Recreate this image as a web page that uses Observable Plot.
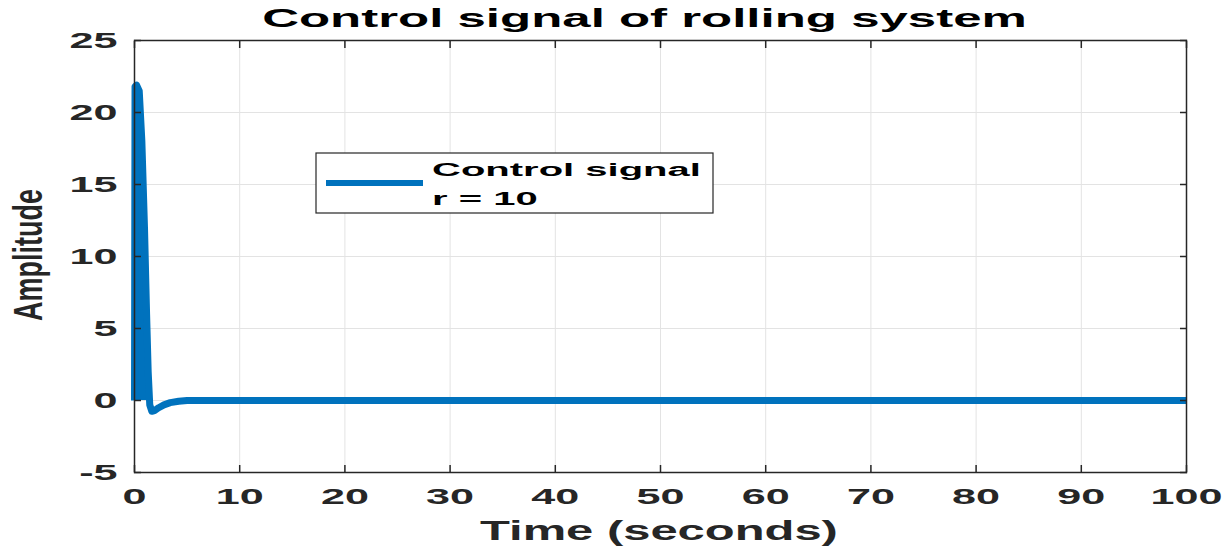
<!DOCTYPE html>
<html><head><meta charset="utf-8">
<script src="https://cdn.jsdelivr.net/npm/d3@7"></script>
<script src="https://cdn.jsdelivr.net/npm/@observablehq/plot@0.6"></script>
<style>
body{margin:0;background:#fff}
#chart svg{font-family:"Liberation Sans",Arial,sans-serif}
</style>
</head><body><div id="chart"></div>
<script>
// ---- data ----
const time      = [0, 0.05, 0.2, 0.45, 0.7, 0.95, 1.15, 1.3, 1.45, 1.65, 1.9, 2.3, 2.8, 3.4, 4.2, 5, 6, 10, 20, 30, 40, 50, 60, 70, 80, 90, 100];
const amplitude = [0, 21.8, 21.9, 21.5, 18, 12, 6, 2, -0.3, -0.75, -0.7, -0.5, -0.3, -0.15, -0.05, 0, 0, 0, 0, 0, 0, 0, 0, 0, 0, 0, 0];
// densely oscillating part that fills the spike
const spikeTime = [0, 0.05, 0.2, 0.5, 0.75, 1.0, 1.2, 1.35, 1.5];
const spikeTop  = [0, 21.8, 21.9, 21.6, 17, 11, 5.5, 2, 0];
const xTicks = [0, 10, 20, 30, 40, 50, 60, 70, 80, 90, 100];
const yTicks = [-5, 0, 5, 10, 15, 20, 25];
const titleText = "Control signal of rolling system";
const xLabel = "Time (seconds)";
const yLabel = "Amplitude";
const legendLines = ["Control signal", "r = 10"];

const blue = "#0072BD";
const ink = "#262626";
const gridColor = "#e3e3e3";

const series = time.map((t, i) => ({t, v: amplitude[i]}));
const spike = spikeTime.map((t, i) => ({t, v: spikeTop[i]}));

const plot = Plot.plot({
  width: 1232, height: 550,
  marginLeft: 134, marginRight: 46, marginTop: 40, marginBottom: 78,
  x: {domain: [0, 100]},
  y: {domain: [-5, 25]},
  style: {fontFamily: "'Liberation Sans', Arial, sans-serif", fontSize: "22px", fontWeight: "bold", color: ink, background: "white", overflow: "visible"},
  marks: [
    Plot.gridX(xTicks, {stroke: gridColor, strokeOpacity: 1, strokeWidth: 1}),
    Plot.gridY(yTicks, {stroke: gridColor, strokeOpacity: 1, strokeWidth: 1}),
    Plot.areaY(spike, {x: "t", y1: 0, y2: "v", fill: blue}),
    Plot.line(series, {x: "t", y: "v", stroke: blue, strokeWidth: 7, strokeLinejoin: "round", strokeLinecap: "butt"}),
    Plot.frame({stroke: ink, strokeWidth: 1.5}),
    // inward ticks on all four sides
    Plot.axisX(xTicks, {anchor: "bottom", tickSize: 7, dy: -7, text: null, label: null, stroke: ink, strokeWidth: 1.5}),
    Plot.axisX(xTicks, {anchor: "top", tickSize: 7, dy: 7, text: null, label: null, stroke: ink, strokeWidth: 1.5}),
    Plot.axisY(yTicks, {anchor: "left", tickSize: 7, dx: 7, text: null, label: null, stroke: ink, strokeWidth: 1.5}),
    Plot.axisY(yTicks, {anchor: "right", tickSize: 7, dx: -7, text: null, label: null, stroke: ink, strokeWidth: 1.5}),
    // tick labels
    Plot.axisX(xTicks, {anchor: "bottom", tickSize: 0, tickPadding: 16, label: null, fill: ink, fontWeight: "bold", fontSize: 22, tickFormat: d => String(d)}),
    Plot.axisY(yTicks, {anchor: "left", tickSize: 0, tickPadding: 17, label: null, fill: ink, fontWeight: "bold", fontSize: 22, tickFormat: d => String(d)})
  ]
});
document.getElementById("chart").appendChild(plot);

const svg = d3.select(plot);

function anchorX(el, b) {
  const anchor = getComputedStyle(el).textAnchor;
  return anchor === "middle" ? b.x + b.width / 2 : anchor === "end" ? b.x + b.width : b.x;
}
function stretchBy(el, s) {
  const b = el.getBBox();
  const cx = anchorX(el, b);
  const prev = el.getAttribute("transform") || "";
  el.setAttribute("transform", `${prev} translate(${cx},0) scale(${s},1) translate(${-cx},0)`);
}
function stretchX(el, target) {
  const s = target / el.getBBox().width;
  stretchBy(el, s);
  return s;
}

// tick labels: widen like the reference
const tickTexts = svg.selectAll('[aria-label$="tick label"] text').nodes();
const ref = tickTexts.find(t => t.textContent === "40");
const tickScale = ref ? 48 / ref.getBBox().width : 1.9;
tickTexts.forEach(t => stretchBy(t, tickScale));

// title
const title = svg.append("text").attr("x", 644.5).attr("y", 27).attr("text-anchor", "middle")
  .attr("font-size", 25).attr("font-weight", "bold").attr("fill", "#000").text(titleText);
stretchX(title.node(), 765);

// x label
const xl = svg.append("text").attr("x", 659).attr("y", 540).attr("text-anchor", "middle")
  .attr("font-size", 27).attr("font-weight", "bold").attr("fill", ink).text(xLabel);
stretchX(xl.node(), 358);

// y label (rotated, widened in screen x)
const yl = svg.append("text").attr("text-anchor", "middle")
  .attr("font-size", 27).attr("font-weight", "bold").attr("fill", ink).text(yLabel);
{
  const el = yl.node();
  const b = el.getBBox();
  const s = 1.5;
  const cy = b.y + b.height * 0.55;
  el.setAttribute("transform", `translate(28,255) rotate(-90) translate(0,${cy}) scale(1,${s}) translate(0,${-cy})`);
  const bb = el.getBoundingClientRect();
  const svgR = plot.getBoundingClientRect();
  const dxFix = 28 - ((bb.left + bb.right) / 2 - svgR.left);
  const dyFix = 255 - ((bb.top + bb.bottom) / 2 - svgR.top);
  el.setAttribute("transform", `translate(${28 + dxFix},${255 + dyFix}) rotate(-90) translate(0,${cy}) scale(1,${s}) translate(0,${-cy})`);
}

// legend
const lg = svg.append("g");
lg.append("rect").attr("x", 316).attr("y", 153).attr("width", 397).attr("height", 60)
  .attr("fill", "white").attr("stroke", ink).attr("stroke-width", 1.2);
lg.append("line").attr("x1", 326).attr("x2", 423).attr("y1", 183).attr("y2", 183)
  .attr("stroke", blue).attr("stroke-width", 6);
const l1 = lg.append("text").attr("x", 432).attr("y", 176).attr("text-anchor", "start")
  .attr("font-size", 19).attr("font-weight", "bold").attr("fill", "#000").text(legendLines[0]);
const ls = stretchX(l1.node(), 269);
const l2 = lg.append("text").attr("x", 432).attr("y", 205).attr("text-anchor", "start")
  .attr("font-size", 19).attr("font-weight", "bold").attr("fill", "#000").text(legendLines[1]);
stretchBy(l2.node(), ls);
</script>
</body></html>
